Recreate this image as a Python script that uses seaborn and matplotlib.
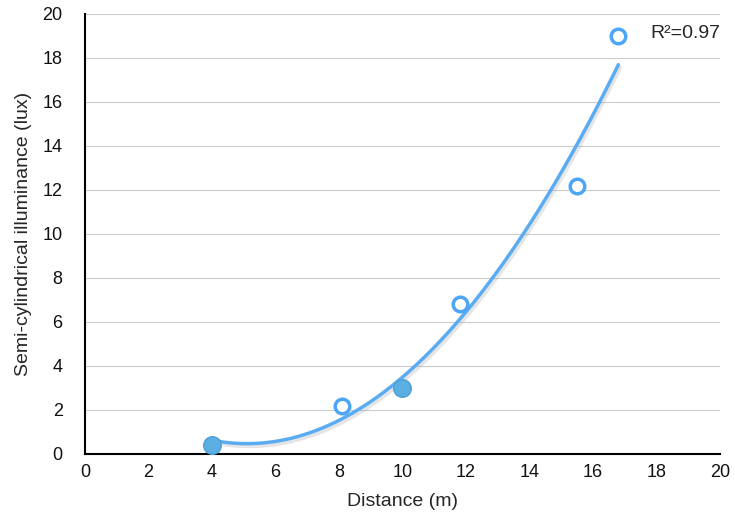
import numpy as np
import pandas as pd
import seaborn as sns
import matplotlib.pyplot as plt
import matplotlib.patheffects as pe

# measured points (distance in m, semi-cylindrical illuminance in lux)
distance = [4.0, 8.1, 10.0, 11.8, 15.5, 16.8]
illuminance = [0.4, 2.2, 3.0, 6.8, 12.2, 19.0]
filled = [True, False, True, False, False, False]
r2_label = "R²=0.97"

df = pd.DataFrame({"distance": distance, "illuminance": illuminance, "filled": filled})

# second order trend line through the points
coef = np.polyfit(df["distance"], df["illuminance"], 2)
xs = np.linspace(min(distance), max(distance), 200)
trend = pd.DataFrame({"distance": xs, "illuminance": np.polyval(coef, xs)})

sns.set_style("white")
plt.rcParams["font.family"] = ["Liberation Sans", "DejaVu Sans"]

fig = plt.figure(figsize=(7.35, 5.22), dpi=100)
ax = fig.add_axes([0.1156, 0.1303, 0.864, 0.843])

line_color = "#5aacf2"
sns.lineplot(data=trend, x="distance", y="illuminance", ax=ax, color=line_color, lw=2.5,
             path_effects=[pe.SimpleLineShadow(offset=(1.5, -2), shadow_color="#999999", alpha=0.25),
                           pe.Normal()], zorder=3)

solid = df[df["filled"]]
hollow = df[~df["filled"]]
sns.scatterplot(data=solid, x="distance", y="illuminance", ax=ax, s=160, color="#5aaee0",
                edgecolor="#4d9fd6", linewidth=1, zorder=4)
sns.scatterplot(data=hollow, x="distance", y="illuminance", ax=ax, s=110, facecolor="white",
                edgecolor="#4da6f5", linewidth=2.5, zorder=4)

ax.set_xlim(0, 20)
ax.set_ylim(0, 20)
ax.set_xticks(range(0, 21, 2))
ax.set_yticks(range(0, 21, 2))
for yv in range(2, 21, 2):
    ax.axhline(yv, color="#cccccc", lw=0.8, zorder=1)

sns.despine(ax=ax)
ax.spines["left"].set_color("black")
ax.spines["bottom"].set_color("black")
ax.spines["left"].set_linewidth(1.5)
ax.spines["bottom"].set_linewidth(1.5)
ax.tick_params(axis="both", length=0, labelsize=13, colors="#111111")
ax.tick_params(axis="x", pad=7)
ax.tick_params(axis="y", pad=16)

ax.set_xlabel("Distance (m)", fontsize=14, labelpad=9)
ax.set_ylabel("Semi-cylindrical illuminance (lux)", fontsize=14, labelpad=8)

ax.text(1.0, 0.955, r2_label, transform=ax.transAxes, ha="right", va="center", fontsize=14)

fig.savefig("out.png", dpi=100)
